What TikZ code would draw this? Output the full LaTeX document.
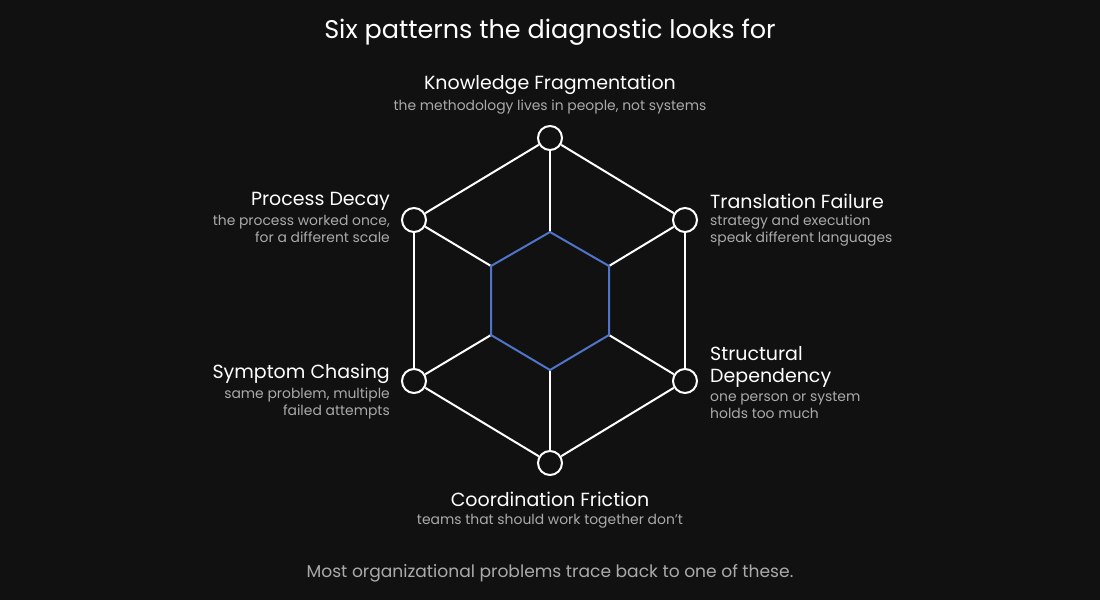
\documentclass[tikz,border=0pt]{standalone}
\usepackage{fontspec}
\setmainfont{Poppins}
\definecolor{bg}{HTML}{111111}
\definecolor{hexblue}{HTML}{4F74C8}
\definecolor{desc}{HTML}{AAAAAA}
\begin{document}
\begin{tikzpicture}[x=1pt,y=-1pt,
  dot/.style={circle,draw=white,line width=2pt,fill=bg,minimum size=24pt,inner sep=0pt},
  ttl/.style={text=white,font=\fontsize{19}{22}\selectfont,inner sep=0pt},
  dsc/.style={text=desc,font=\fontsize{13.9}{17}\selectfont,inner sep=0pt},
  edge/.style={draw=white,line width=2pt}]
\fill[bg] (0,0) rectangle (1100,600);
\useasboundingbox (0,0) rectangle (1100,600);
\node[text=white,font=\fontsize{25.5}{30}\selectfont,inner sep=0pt] (title) at (550,32) {Six patterns the diagnostic looks for};
\coordinate (i1) at (550,232); \coordinate (i2) at (609,266); \coordinate (i3) at (609,335);
\coordinate (i4) at (550,370); \coordinate (i5) at (491,335); \coordinate (i6) at (491,266);
\node[dot] (o1) at (550,138) {}; \node[dot] (o2) at (685,220) {}; \node[dot] (o3) at (685,381) {};
\node[dot] (o4) at (550,463) {}; \node[dot] (o5) at (414,381) {}; \node[dot] (o6) at (414,220) {};
\foreach \a/\b in {1/2,2/3,3/4,4/5,5/6,6/1} \draw[edge] (o\a) -- (o\b);
\foreach \a in {1,...,6} \draw[edge] (i\a) -- (o\a);
\draw[hexblue,line width=2pt,line join=round] (i1)--(i2)--(i3)--(i4)--(i5)--(i6)--cycle;
\node[ttl] (t1) at (550,85) {Knowledge Fragmentation};
\node[dsc] (d1) at (550,107) {the methodology lives in people, not systems};
\node[ttl,anchor=west] (t2) at (710,201) {Translation Failure};
\node[dsc,anchor=north west,align=left] (d2) at (710,215) {strategy and execution\\speak different languages};
\node[ttl,anchor=north west,align=left,font=\fontsize{19}{22.5}\selectfont] (t3) at (710,346) {Structural\\Dependency};
\node[dsc,anchor=north west,align=left] (d3) at (710,392) {one person or system\\holds too much};
\node[ttl] (t4) at (550,499) {Coordination Friction};
\node[dsc] (d4) at (550,521) {teams that should work together don't};
\node[ttl,anchor=east] (t5) at (390,374) {Symptom Chasing};
\node[dsc,anchor=north east,align=right] (d5) at (390,388) {same problem, multiple\\failed attempts};
\node[ttl,anchor=east] (t6) at (390,201) {Process Decay};
\node[dsc,anchor=north east,align=right] (d6) at (390,215) {the process worked once,\\for a different scale};
\node[dsc,font=\fontsize{17.1}{20}\selectfont] (foot) at (550,573) {Most organizational problems trace back to one of these.};
\end{tikzpicture}
\end{document}
